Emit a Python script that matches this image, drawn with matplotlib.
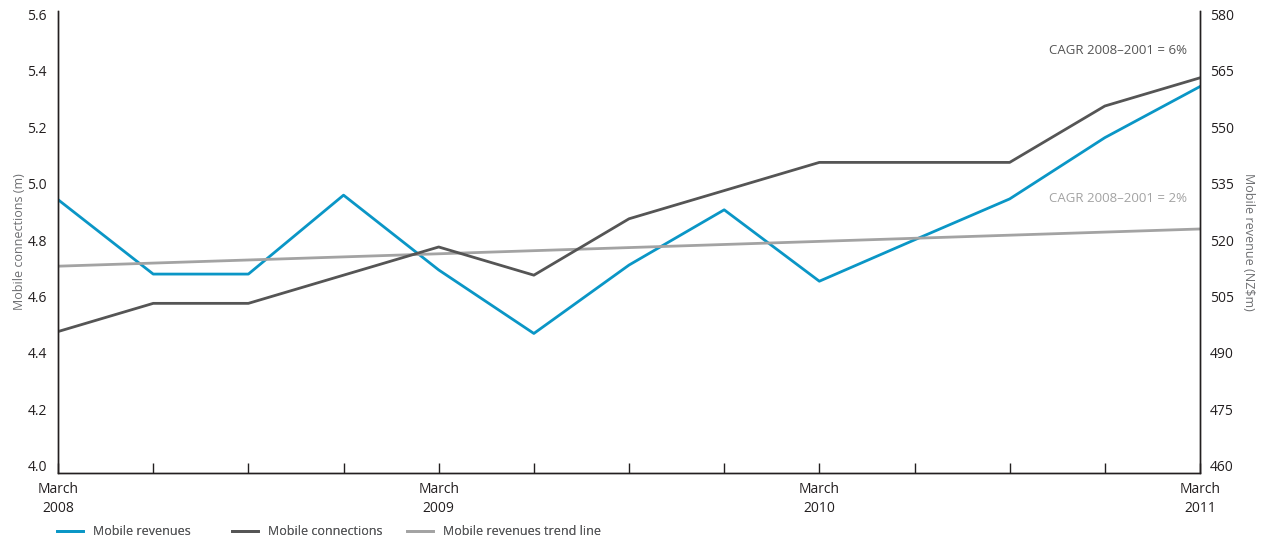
import matplotlib
matplotlib.use("Agg")
import matplotlib.pyplot as plt
from matplotlib.transforms import ScaledTranslation

# quarterly points, March 2008 .. March 2011
quarters = list(range(13))
tick_labels = ["March\n2008", "", "", "", "March\n2009", "", "", "",
               "March\n2010", "", "", "", "March\n2011"]

# Mobile connections (m), left axis
connections = [4.5, 4.6, 4.6, 4.7, 4.8, 4.7, 4.9, 5.0, 5.1, 5.1, 5.1, 5.3, 5.4]
# Mobile revenues (NZ$m), right axis
revenues = [532.6, 512.8, 512.8, 533.8, 513.9, 497.0, 515.2, 529.9,
            510.9, 521.9, 532.8, 549.1, 562.7]
# trend line on revenues (start and end)
trend_x = [0, 12]
trend_y = [514.9, 524.8]

BLUE = "#0a96c6"
DARK = "#555555"
LIGHT = "#a3a3a3"
TXT = "#231f20"

plt.rcParams["font.family"] = ["Open Sans", "DejaVu Sans"]

fig = plt.figure(figsize=(12.65, 5.4), dpi=100)
ax = fig.add_axes([0.0459, 0.125, 0.9027, 0.8546])
ax2 = ax.twinx()

l_rev, = ax2.plot(quarters, revenues, color=BLUE, lw=2.0, label="Mobile revenues")
l_con, = ax.plot(quarters, connections, color=DARK, lw=2.0, label="Mobile connections")
l_tr, = ax2.plot(trend_x, trend_y, color=LIGHT, lw=2.0, label="Mobile revenues trend line")
ax.set_zorder(ax2.get_zorder() + 1)
ax.patch.set_visible(False)

ax.set_xlim(0, 12)
ax.set_ylim(4.0, 5.637)
ax2.set_ylim(460, 582.8)
ax.set_yticks([4.0, 4.2, 4.4, 4.6, 4.8, 5.0, 5.2, 5.4, 5.6])
ax.set_yticklabels(["4.0", "4.2", "4.4", "4.6", "4.8", "5.0", "5.2", "5.4", "5.6"])
ax2.set_yticks([460, 475, 490, 505, 520, 535, 550, 565, 580])

ax.set_xticks(quarters)
ax.set_xticklabels(tick_labels, fontsize=10, color=TXT, linespacing=1.3)
ax.tick_params(axis="x", direction="in", length=7, width=1, color=TXT, pad=7)
ax.tick_params(axis="y", length=0, labelsize=10, labelcolor=TXT, pad=8)
ax2.tick_params(axis="y", length=0, labelsize=10, labelcolor=TXT, pad=7)

# shift y tick labels up a little as in the original
off = ScaledTranslation(0, 5 / 72, fig.dpi_scale_trans)
for lab in ax.get_yticklabels() + ax2.get_yticklabels():
    lab.set_transform(lab.get_transform() + off)

for a in (ax, ax2):
    a.spines["top"].set_visible(False)
    for s in ("left", "right", "bottom"):
        a.spines[s].set_color(TXT)
        a.spines[s].set_linewidth(1)

ax.set_ylabel("Mobile connections (m)", fontsize=9, color="#6d6e71", labelpad=1)
ax2.set_ylabel("Mobile revenue (NZ$m)", fontsize=9, color="#6d6e71",
               rotation=-90, labelpad=15)

ax2.text(11.86, 572.2, "CAGR 2008\u20132001 = 6%", ha="right", va="center",
         fontsize=9.5, color=DARK)
ax2.text(11.86, 533.0, "CAGR 2008\u20132001 = 2%", ha="right", va="center",
         fontsize=9.5, color=LIGHT)

# legend entries sit at fixed spacing along the bottom
for i, h in enumerate([l_rev, l_con, l_tr]):
    leg = fig.legend(handles=[h], loc="lower left",
                     bbox_to_anchor=(0.036 + i * 0.1385, -0.018), frameon=False,
                     fontsize=9, handlelength=2.1, labelcolor="#58595b")
    fig.add_artist(leg)

fig.savefig("out.png", dpi=100)
